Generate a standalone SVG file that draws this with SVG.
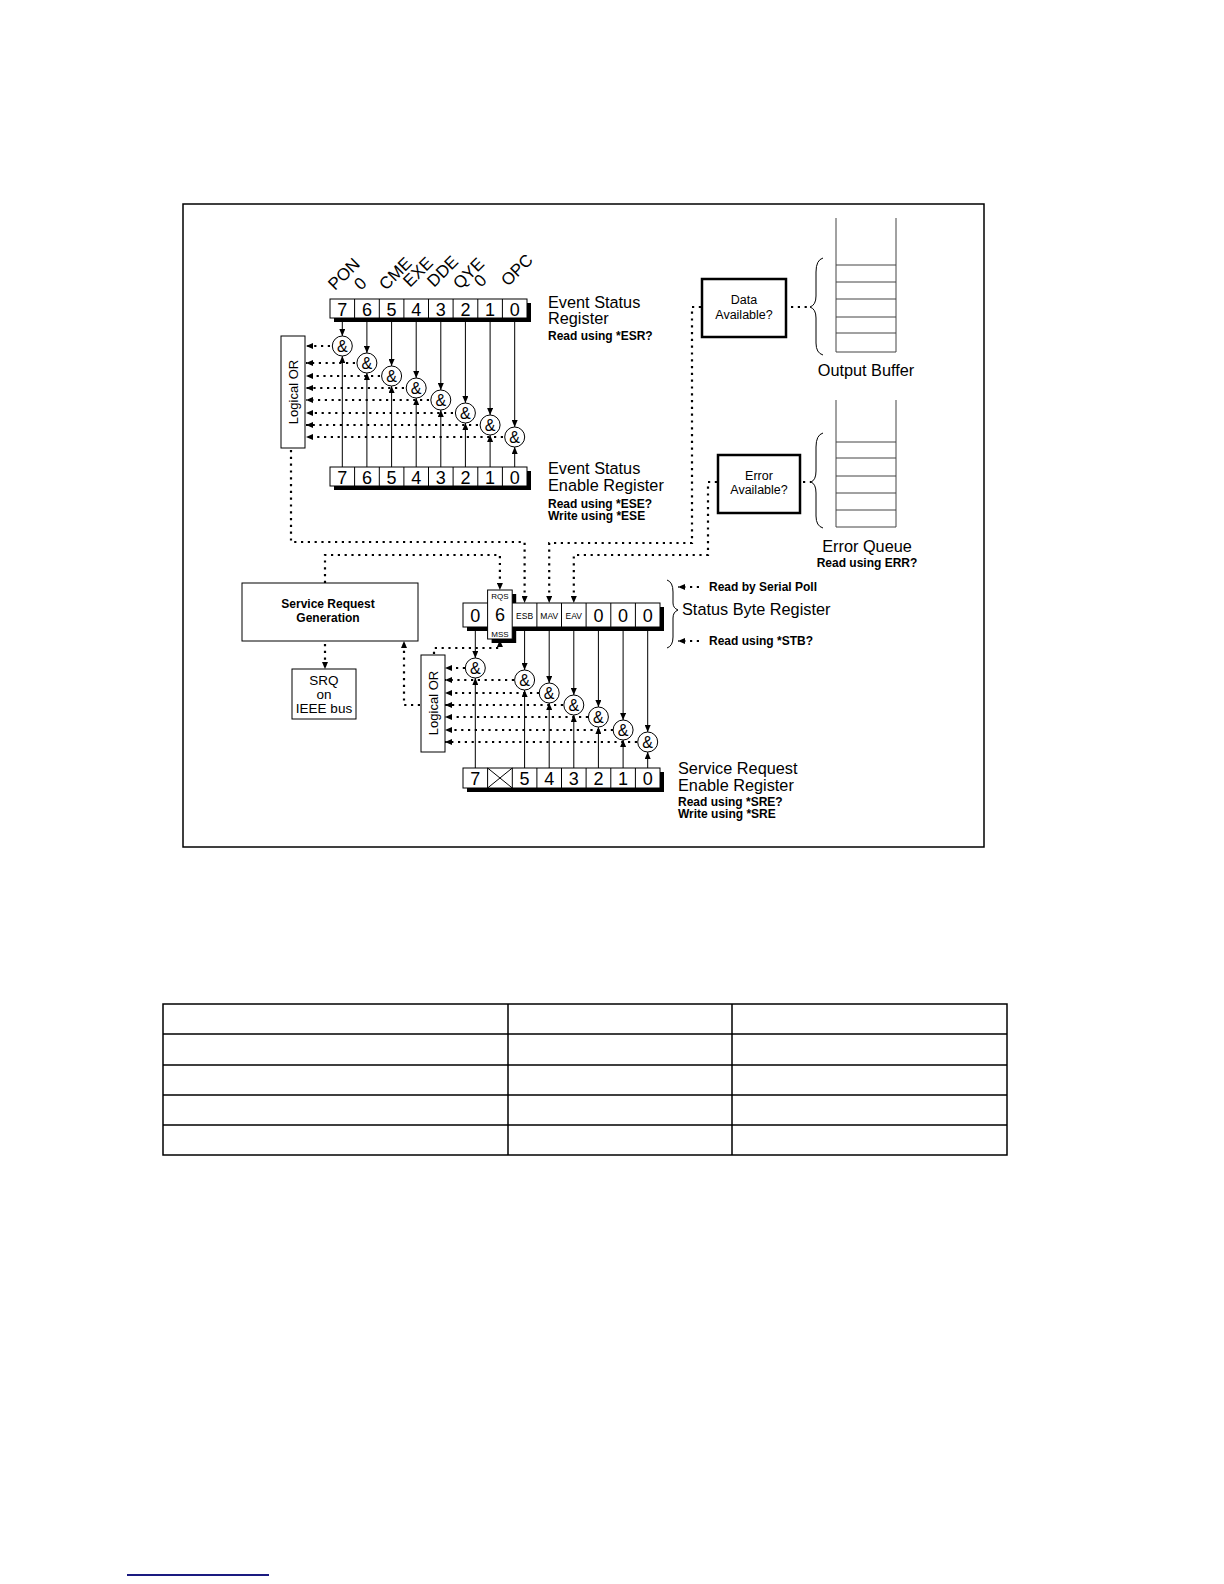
<svg xmlns="http://www.w3.org/2000/svg" width="1224" height="1584" viewBox="0 0 1224 1584">
<style>
text{font-family:"Liberation Sans",Arial,sans-serif;fill:#000}
.big{font-size:16.3px}
.rot{font-size:17px}
.dig{font-size:18px;text-anchor:middle}
.sm{font-size:12px;font-weight:bold}
.smc{font-size:12px;font-weight:bold;text-anchor:middle}
.nc{font-size:12.5px;text-anchor:middle}
.lor{font-size:13px;text-anchor:middle}
.tiny{font-size:8.5px;text-anchor:middle}
.amp{font-size:16px;text-anchor:middle}
.ln{stroke:#000;stroke-width:1;fill:none}
.dot{stroke:#000;stroke-width:2.2;stroke-dasharray:2.2 4.6;fill:none}
.box{fill:#fff;stroke:#000;stroke-width:1}
.tbox{fill:#fff;stroke:#000;stroke-width:2.5}
.sh{fill:#000}
.g{fill:#fff;stroke:#000;stroke-width:1}
.buf{stroke:#444;stroke-width:1;fill:none}
.tb{stroke:#000;stroke-width:1.5;fill:none}
</style>
<defs>
<marker id="ah" viewBox="0 0 7 6" refX="7" refY="3" markerWidth="7" markerHeight="6" markerUnits="userSpaceOnUse" orient="auto"><path d="M0,0 L7,3 L0,6 z" fill="#000"/></marker>
</defs>
<rect x="183" y="204" width="801" height="643" fill="none" stroke="#000" stroke-width="1.5"/>

<g id="connectors">
<line class="ln" x1="342.3" y1="318" x2="342.3" y2="336" marker-end="url(#ah)"/>
<line class="ln" x1="366.9" y1="318" x2="366.9" y2="353" marker-end="url(#ah)"/>
<line class="ln" x1="391.6" y1="318" x2="391.6" y2="366" marker-end="url(#ah)"/>
<line class="ln" x1="416.2" y1="318" x2="416.2" y2="378" marker-end="url(#ah)"/>
<line class="ln" x1="440.8" y1="318" x2="440.8" y2="390" marker-end="url(#ah)"/>
<line class="ln" x1="465.4" y1="318" x2="465.4" y2="403" marker-end="url(#ah)"/>
<line class="ln" x1="490.1" y1="318" x2="490.1" y2="415" marker-end="url(#ah)"/>
<line class="ln" x1="514.7" y1="318" x2="514.7" y2="427" marker-end="url(#ah)"/>
<line class="ln" x1="342.3" y1="467" x2="342.3" y2="356" marker-end="url(#ah)"/>
<line class="ln" x1="366.9" y1="467" x2="366.9" y2="373" marker-end="url(#ah)"/>
<line class="ln" x1="391.6" y1="467" x2="391.6" y2="386" marker-end="url(#ah)"/>
<line class="ln" x1="416.2" y1="467" x2="416.2" y2="398" marker-end="url(#ah)"/>
<line class="ln" x1="440.8" y1="467" x2="440.8" y2="410" marker-end="url(#ah)"/>
<line class="ln" x1="465.4" y1="467" x2="465.4" y2="423" marker-end="url(#ah)"/>
<line class="ln" x1="490.1" y1="467" x2="490.1" y2="435" marker-end="url(#ah)"/>
<line class="ln" x1="514.7" y1="467" x2="514.7" y2="447" marker-end="url(#ah)"/>
<line class="dot" x1="330" y1="346" x2="306" y2="346" marker-end="url(#ah)"/>
<line class="dot" x1="355" y1="363" x2="306" y2="363" marker-end="url(#ah)"/>
<line class="dot" x1="380" y1="376" x2="306" y2="376" marker-end="url(#ah)"/>
<line class="dot" x1="404" y1="388" x2="306" y2="388" marker-end="url(#ah)"/>
<line class="dot" x1="429" y1="400" x2="306" y2="400" marker-end="url(#ah)"/>
<line class="dot" x1="453" y1="413" x2="306" y2="413" marker-end="url(#ah)"/>
<line class="dot" x1="478" y1="425" x2="306" y2="425" marker-end="url(#ah)"/>
<line class="dot" x1="503" y1="437" x2="306" y2="437" marker-end="url(#ah)"/>
<path class="dot" d="M291,450 V542 H524.6 V603" marker-end="url(#ah)"/>
<path class="dot" d="M325,583 V555 H499.9 V590" marker-end="url(#ah)"/>
<path class="dot" d="M701,307 H692 V543 H549.2 V603" marker-end="url(#ah)"/>
<path class="dot" d="M717,482 H708 V555 H573.8 V603" marker-end="url(#ah)"/>
<line class="dot" x1="791" y1="307" x2="809" y2="307"/>
<line class="dot" x1="803" y1="482" x2="811" y2="482"/>
<line class="dot" x1="325" y1="644" x2="325" y2="669" marker-end="url(#ah)"/>
<path class="dot" d="M420,705 H404 V641" marker-end="url(#ah)"/>
<path class="dot" d="M434,654 V648 H499.9 V640" marker-end="url(#ah)"/>
<line class="ln" x1="475.3" y1="627" x2="475.3" y2="658" marker-end="url(#ah)"/>
<line class="ln" x1="524.6" y1="631" x2="524.6" y2="670" marker-end="url(#ah)"/>
<line class="ln" x1="549.2" y1="631" x2="549.2" y2="683" marker-end="url(#ah)"/>
<line class="ln" x1="573.8" y1="631" x2="573.8" y2="695" marker-end="url(#ah)"/>
<line class="ln" x1="598.4" y1="631" x2="598.4" y2="707" marker-end="url(#ah)"/>
<line class="ln" x1="623.1" y1="631" x2="623.1" y2="720" marker-end="url(#ah)"/>
<line class="ln" x1="647.7" y1="631" x2="647.7" y2="732" marker-end="url(#ah)"/>
<line class="ln" x1="475.3" y1="768" x2="475.3" y2="678" marker-end="url(#ah)"/>
<line class="ln" x1="524.6" y1="768" x2="524.6" y2="690" marker-end="url(#ah)"/>
<line class="ln" x1="549.2" y1="768" x2="549.2" y2="703" marker-end="url(#ah)"/>
<line class="ln" x1="573.8" y1="768" x2="573.8" y2="715" marker-end="url(#ah)"/>
<line class="ln" x1="598.4" y1="768" x2="598.4" y2="727" marker-end="url(#ah)"/>
<line class="ln" x1="623.1" y1="768" x2="623.1" y2="740" marker-end="url(#ah)"/>
<line class="ln" x1="647.7" y1="768" x2="647.7" y2="752" marker-end="url(#ah)"/>
<line class="dot" x1="465" y1="668" x2="445" y2="668" marker-end="url(#ah)"/>
<line class="dot" x1="514" y1="680" x2="445" y2="680" marker-end="url(#ah)"/>
<line class="dot" x1="539" y1="693" x2="445" y2="693" marker-end="url(#ah)"/>
<line class="dot" x1="563" y1="705" x2="445" y2="705" marker-end="url(#ah)"/>
<line class="dot" x1="588" y1="717" x2="445" y2="717" marker-end="url(#ah)"/>
<line class="dot" x1="613" y1="730" x2="445" y2="730" marker-end="url(#ah)"/>
<line class="dot" x1="637" y1="742" x2="445" y2="742" marker-end="url(#ah)"/>
<line class="dot" x1="699" y1="587" x2="678" y2="587" marker-end="url(#ah)"/>
<line class="dot" x1="699" y1="641" x2="678" y2="641" marker-end="url(#ah)"/>
</g>

<g id="esr">
<rect class="sh" x="334" y="303" width="197" height="19"/>
<rect class="box" x="330" y="299" width="197" height="19"/>
<path class="ln" d="M354.6,299v19M379.3,299v19M403.9,299v19M428.5,299v19M453.1,299v19M477.8,299v19M502.4,299v19"/>
<text class="dig" x="342.3" y="315.5">7</text><text class="dig" x="366.9" y="315.5">6</text><text class="dig" x="391.6" y="315.5">5</text><text class="dig" x="416.2" y="315.5">4</text><text class="dig" x="440.8" y="315.5">3</text><text class="dig" x="465.4" y="315.5">2</text><text class="dig" x="490.1" y="315.5">1</text><text class="dig" x="514.7" y="315.5">0</text>
<text class="rot" transform="translate(335,291) rotate(-45)">PON</text>
<text class="rot" transform="translate(361,291) rotate(-45)">0</text>
<text class="rot" transform="translate(386,291) rotate(-45)">CME</text>
<text class="rot" transform="translate(410,288) rotate(-45)">EXE</text>
<text class="rot" transform="translate(434,288) rotate(-45)">DDE</text>
<text class="rot" transform="translate(460,290) rotate(-45)">QYE</text>
<text class="rot" transform="translate(481,288) rotate(-45)">0</text>
<text class="rot" transform="translate(508,287) rotate(-45)">OPC</text>
<text class="big" x="548" y="308">Event Status</text>
<text class="big" x="548" y="324">Register</text>
<text class="sm" x="548" y="340">Read using *ESR?</text>
</g>

<g id="gates-top">
<circle class="g" cx="342.3" cy="346" r="10"/><text class="amp" x="342.3" y="352">&amp;</text>
<circle class="g" cx="366.9" cy="363" r="10"/><text class="amp" x="366.9" y="369">&amp;</text>
<circle class="g" cx="391.6" cy="376" r="10"/><text class="amp" x="391.6" y="382">&amp;</text>
<circle class="g" cx="416.2" cy="388" r="10"/><text class="amp" x="416.2" y="394">&amp;</text>
<circle class="g" cx="440.8" cy="400" r="10"/><text class="amp" x="440.8" y="406">&amp;</text>
<circle class="g" cx="465.4" cy="413" r="10"/><text class="amp" x="465.4" y="419">&amp;</text>
<circle class="g" cx="490.1" cy="425" r="10"/><text class="amp" x="490.1" y="431">&amp;</text>
<circle class="g" cx="514.7" cy="437" r="10"/><text class="amp" x="514.7" y="443">&amp;</text>
</g>

<g id="logical-or-top">
<rect class="box" x="281" y="336" width="24" height="112"/>
<text class="lor" transform="translate(297.5,392) rotate(-90)">Logical OR</text>
</g>

<g id="ese">
<rect class="sh" x="334" y="471" width="197" height="19"/>
<rect class="box" x="330" y="467" width="197" height="19"/>
<path class="ln" d="M354.6,467v19M379.3,467v19M403.9,467v19M428.5,467v19M453.1,467v19M477.8,467v19M502.4,467v19"/>
<text class="dig" x="342.3" y="483.5">7</text><text class="dig" x="366.9" y="483.5">6</text><text class="dig" x="391.6" y="483.5">5</text><text class="dig" x="416.2" y="483.5">4</text><text class="dig" x="440.8" y="483.5">3</text><text class="dig" x="465.4" y="483.5">2</text><text class="dig" x="490.1" y="483.5">1</text><text class="dig" x="514.7" y="483.5">0</text>
<text class="big" x="548" y="474">Event Status</text>
<text class="big" x="548" y="491">Enable Register</text>
<text class="sm" x="548" y="508">Read using *ESE?</text>
<text class="sm" x="548" y="520">Write using *ESE</text>
</g>

<g id="data-available">
<rect class="tbox" x="702" y="279" width="84" height="58"/>
<text class="nc" x="744" y="304">Data</text>
<text class="nc" x="744" y="319">Available?</text>
</g>

<g id="output-buffer">
<path class="buf" d="M836,218V352M896,218V352M836,265H896M836,282H896M836,299H896M836,317H896M836,333H896M836,352H896"/>
<path class="ln" d="M823,258 Q816,260 816,272 L816,296 Q816,305 810,307 Q816,309 816,318 L816,343 Q816,353 823,355"/>
<text class="big" x="866" y="376" text-anchor="middle">Output Buffer</text>
</g>

<g id="error-available">
<rect class="tbox" x="718" y="455" width="82" height="58"/>
<text class="nc" x="759" y="480">Error</text>
<text class="nc" x="759" y="494">Available?</text>
</g>

<g id="error-queue">
<path class="buf" d="M836,400V527M896,400V527M836,442H896M836,458H896M836,476H896M836,493H896M836,510H896M836,527H896"/>
<path class="ln" d="M823,433 Q816,435 816,447 L816,471 Q816,480 811,482 Q816,484 816,493 L816,516 Q816,526 823,528"/>
<text class="big" x="867" y="552" text-anchor="middle">Error Queue</text>
<text class="smc" x="867" y="567">Read using ERR?</text>
</g>

<g id="srg">
<rect class="box" x="242" y="583" width="176" height="58"/>
<text class="smc" x="328" y="608">Service Request</text>
<text class="smc" x="328" y="622">Generation</text>
</g>

<g id="srq">
<rect class="box" x="292" y="669" width="64" height="50"/>
<text class="nc" style="font-size:13.5px" x="324" y="685">SRQ</text>
<text class="nc" style="font-size:13.5px" x="324" y="699">on</text>
<text class="nc" style="font-size:13.5px" x="324" y="713">IEEE bus</text>
</g>

<g id="sbr">
<rect class="sh" x="467" y="607" width="197" height="24"/>
<rect class="sh" x="491.6" y="594" width="24.6" height="49"/>
<rect class="box" x="463" y="603" width="197" height="24"/>
<rect class="box" x="487.6" y="590" width="24.6" height="49"/>
<path class="ln" d="M536.9,603v24M561.5,603v24M586.1,603v24M610.8,603v24M635.4,603v24"/>
<text class="dig" x="475.3" y="621.5">0</text>
<text class="tiny" x="499.9" y="599" style="font-size:8px">RQS</text>
<text class="dig" x="499.9" y="620.5">6</text>
<text class="tiny" x="499.9" y="637" style="font-size:8px">MSS</text>
<text class="tiny" x="524.6" y="619">ESB</text>
<text class="tiny" x="549.2" y="619">MAV</text>
<text class="tiny" x="573.8" y="619">EAV</text>
<text class="dig" x="598.4" y="621.5">0</text><text class="dig" x="623.1" y="621.5">0</text><text class="dig" x="647.7" y="621.5">0</text>
<path class="ln" d="M667,580 Q673,582 673,592 L673,603 Q673,608 678,610 Q673,612 673,618 L673,637 Q673,646 667,648"/>
<text class="big" x="682" y="615">Status Byte Register</text>
<text class="sm" x="709" y="591">Read by Serial Poll</text>
<text class="sm" x="709" y="645">Read using *STB?</text>
</g>

<g id="gates-bottom">
<circle class="g" cx="475.3" cy="668" r="10"/><text class="amp" x="475.3" y="674">&amp;</text>
<circle class="g" cx="524.6" cy="680" r="10"/><text class="amp" x="524.6" y="686">&amp;</text>
<circle class="g" cx="549.2" cy="693" r="10"/><text class="amp" x="549.2" y="699">&amp;</text>
<circle class="g" cx="573.8" cy="705" r="10"/><text class="amp" x="573.8" y="711">&amp;</text>
<circle class="g" cx="598.4" cy="717" r="10"/><text class="amp" x="598.4" y="723">&amp;</text>
<circle class="g" cx="623.1" cy="730" r="10"/><text class="amp" x="623.1" y="736">&amp;</text>
<circle class="g" cx="647.7" cy="742" r="10"/><text class="amp" x="647.7" y="748">&amp;</text>
</g>

<g id="logical-or-bottom">
<rect class="box" x="421" y="655" width="24" height="97"/>
<text class="lor" transform="translate(437.5,703) rotate(-90)">Logical OR</text>
</g>

<g id="sre">
<rect class="sh" x="467" y="772" width="197" height="20"/>
<rect class="box" x="463" y="768" width="197" height="20"/>
<path class="ln" d="M487.6,768v20M512.3,768v20M536.9,768v20M561.5,768v20M586.1,768v20M610.8,768v20M635.4,768v20M487.6,768L512.3,788M512.3,768L487.6,788"/>
<text class="dig" x="475.3" y="784.5">7</text>
<text class="dig" x="524.6" y="784.5">5</text><text class="dig" x="549.2" y="784.5">4</text><text class="dig" x="573.8" y="784.5">3</text><text class="dig" x="598.4" y="784.5">2</text><text class="dig" x="623.1" y="784.5">1</text><text class="dig" x="647.7" y="784.5">0</text>
<text class="big" x="678" y="774">Service Request</text>
<text class="big" x="678" y="791">Enable Register</text>
<text class="sm" x="678" y="806">Read using *SRE?</text>
<text class="sm" x="678" y="818">Write using *SRE</text>
</g>

<g id="table">
<rect class="tb" x="163" y="1004" width="844" height="151"/>
<path class="tb" d="M163,1034H1007M163,1065H1007M163,1095H1007M163,1125H1007M508,1004V1155M732,1004V1155"/>
</g>
<line x1="127" y1="1575" x2="269" y2="1575" stroke="#1a1a80" stroke-width="2"/>
</svg>
